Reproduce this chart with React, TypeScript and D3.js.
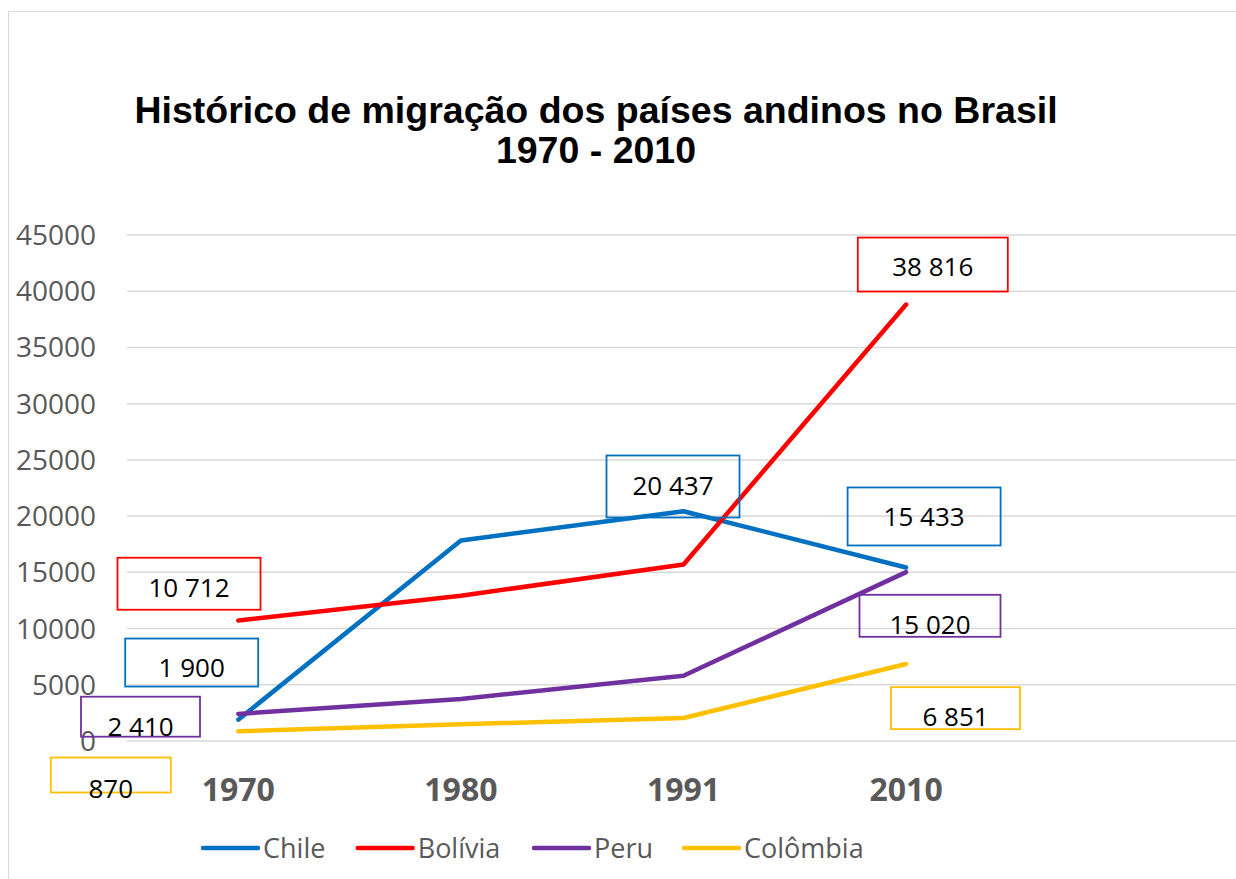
import React from "react";
import * as d3 from "d3";

// ---- data ----
const categories = ["1970", "1980", "1991", "2010"];
const seriesNames = ["Chile", "Bolívia", "Peru", "Colômbia"];
const chileValues = [1900, 17830, 20437, 15433];
const boliviaValues = [10712, 12920, 15700, 38816];
const peruValues = [2410, 3740, 5810, 15020];
const colombiaValues = [870, 1490, 2050, 6851];
const yTickValues = [0, 5000, 10000, 15000, 20000, 25000, 30000, 35000, 40000, 45000];
const titleLines = ["Histórico de migração dos países andinos no Brasil", "1970 - 2010"];

// ---- style / layout ----
const seriesColors = ["#0070C0", "#FF0000", "#7030A0", "#FFC000"];
const W = 1236;
const H = 879;
const plotLeft = 127;
const plotRight = 1240;
const plotTop = 235;
const plotBottom = 741;
const legendStarts = [203, 357.7, 534, 684];
// data label boxes: series index, point index, offset of box centre from point, box size, text offset
const labelLayout = [
  { s: 0, i: 0, dx: -46.6, dy: -57.1, w: 133, h: 48, ty: 4.5 },
  { s: 0, i: 2, dx: -10.5, dy: -24.7, w: 133, h: 62, ty: -1.5 },
  { s: 0, i: 3, dx: 18, dy: -51, w: 153, h: 58, ty: 0 },
  { s: 1, i: 0, dx: -49.3, dy: -36.8, w: 143, h: 52, ty: 3 },
  { s: 1, i: 3, dx: 26.7, dy: -40, w: 150, h: 54, ty: 1 },
  { s: 2, i: 0, dx: -97.8, dy: 2.8, w: 119, h: 40, ty: 9.5 },
  { s: 2, i: 3, dx: 23.9, dy: 43.7, w: 141, h: 42, ty: 8 },
  { s: 3, i: 0, dx: -127.5, dy: 43.8, w: 120, h: 35, ty: 12.5 },
  { s: 3, i: 3, dx: 49.4, dy: 44.2, w: 129, h: 42, ty: 7.6 },
];

const FONT = "'Open Sans', 'Noto Sans', sans-serif";

export default function App() {
  const allSeries = [chileValues, boliviaValues, peruValues, colombiaValues];
  const x = d3
    .scaleBand<string>()
    .domain([...categories, ""])
    .range([plotLeft, plotRight])
    .padding(0);
  const cx = (c: string) => (x(c) as number) + x.bandwidth() / 2;
  const y = d3.scaleLinear().domain([0, 45000]).range([plotBottom, plotTop]);
  const line = d3
    .line<number>()
    .x((_, i) => cx(categories[i]))
    .y((d) => y(d));
  const fmt = (v: number) => d3.format(",")(v).replace(/,/g, " ");

  return (
    <svg
      width={W}
      height={H}
      style={{ position: "absolute", left: 0, top: 0, background: "#fff" }}
    >
      <rect x={0} y={0} width={W} height={H} fill="#fff" />
      <rect x={8.5} y={11.5} width={1300} height={900} fill="none" stroke="#D9D9D9" strokeWidth={1} />

      {/* title */}
      {titleLines.map((t, k) => (
        <text
          key={k}
          x={596}
          y={123 + k * 40}
          textAnchor="middle"
          fontFamily="'Liberation Sans', Arial, sans-serif"
          fontWeight="bold"
          fontSize={37.5}
          fill="#000"
        >
          {t}
        </text>
      ))}

      {/* gridlines & y ticks */}
      {yTickValues.map((v) => (
        <g key={v}>
          <line x1={plotLeft} x2={plotRight} y1={y(v)} y2={y(v)} stroke="#D9D9D9" strokeWidth={1.5} />
          <text x={96} y={y(v) + 10} textAnchor="end" fontFamily={FONT} fontSize={28} fill="#595959">
            {v}
          </text>
        </g>
      ))}

      {/* x tick labels */}
      {categories.map((c) => (
        <text
          key={c}
          x={cx(c)}
          y={801}
          textAnchor="middle"
          fontFamily={FONT}
          fontWeight="bold"
          fontSize={32}
          fill="#595959"
        >
          {c}
        </text>
      ))}

      {/* lines */}
      {allSeries.map((vals, s) => (
        <path
          key={s}
          d={line(vals) as string}
          fill="none"
          stroke={seriesColors[s]}
          strokeWidth={4.5}
          strokeLinecap="round"
          strokeLinejoin="round"
        />
      ))}

      {/* data labels */}
      {labelLayout.map((l, k) => {
        const v = allSeries[l.s][l.i];
        const px = cx(categories[l.i]) + l.dx;
        const py = y(v) + l.dy;
        return (
          <g key={k}>
            <rect
              x={px - l.w / 2}
              y={py - l.h / 2}
              width={l.w}
              height={l.h}
              fill="none"
              stroke={seriesColors[l.s]}
              strokeWidth={1.8}
            />
            <text
              x={px}
              y={py + l.ty}
              textAnchor="middle"
              dominantBaseline="central"
              fontFamily={FONT}
              fontSize={26}
              fill="#000"
            >
              {fmt(v)}
            </text>
          </g>
        );
      })}

      {/* legend */}
      {seriesNames.map((n, s) => (
        <g key={n}>
          <line
            x1={legendStarts[s]}
            x2={legendStarts[s] + 55}
            y1={848}
            y2={848}
            stroke={seriesColors[s]}
            strokeWidth={4.5}
            strokeLinecap="round"
          />
          <text x={legendStarts[s] + 60} y={858} fontFamily={FONT} fontSize={27} fill="#595959">
            {n}
          </text>
        </g>
      ))}
    </svg>
  );
}
